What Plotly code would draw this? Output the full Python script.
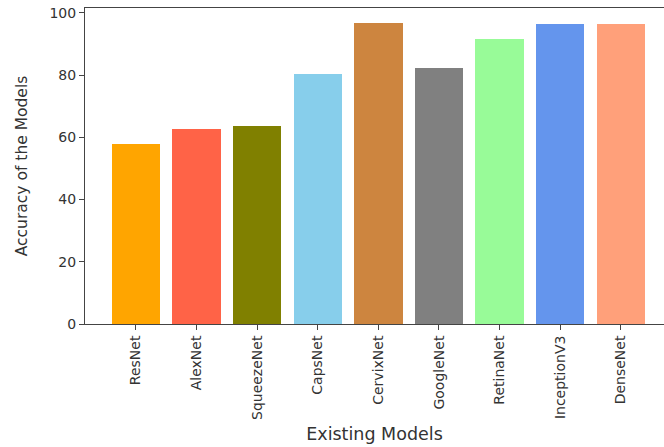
import plotly.graph_objects as go

models = ["ResNet", "AlexNet", "SqueezeNet", "CapsNet", "CervixNet",
          "GoogleNet", "RetinaNet", "InceptionV3", "DenseNet"]
accuracy = [57.9, 62.6, 63.6, 80.4, 96.7, 82.2, 91.5, 96.4, 96.4]
bar_colors = ["#FFA500", "#FF6347", "#808000", "#87CEEB", "#CD853F",
              "#808080", "#98FB98", "#6495ED", "#FFA07A"]
y_ticks = [0, 20, 40, 60, 80, 100]

font_family = "DejaVu Sans"
tick_fs = 14
text_color = "#333"
line_color = "#444"

fig = go.Figure(go.Bar(
    x=list(range(len(models))),
    y=accuracy,
    marker=dict(color=bar_colors, line=dict(width=0)),
    width=0.8,
))

fig.update_layout(
    width=664, height=447,
    margin=dict(l=85, r=0, t=8, b=123),
    plot_bgcolor="white", paper_bgcolor="white",
    font=dict(family=font_family, size=tick_fs, color=text_color),
    showlegend=False,
    bargap=0,
)
fig.update_xaxes(
    range=[-0.84, 8.713],
    tickmode="array",
    tickvals=list(range(len(models))),
    ticktext=models,
    tickangle=-90,
    ticks="outside", ticklen=5, tickcolor=line_color, tickwidth=1,
    showline=True, linecolor=line_color, linewidth=1, mirror=True,
    showgrid=False, zeroline=False,
    title=dict(text="Existing Models", standoff=8,
               font=dict(family=font_family, size=17.5, color=text_color)),
    automargin=False,
)
fig.update_yaxes(
    range=[0, 101.6],
    tickmode="array",
    tickvals=y_ticks,
    ticks="outside", ticklen=5, tickcolor=line_color, tickwidth=1,
    showline=True, linecolor=line_color, linewidth=1, mirror=False,
    showgrid=False, zeroline=False,
    title=dict(text="Accuracy of the Models", standoff=18,
               font=dict(family=font_family, size=15.5, color=text_color)),
    automargin=False,
)

fig.write_html(
    "out.html",
    config={"displayModeBar": False},
    post_script="document.body.style.margin='0';document.body.style.overflow='hidden';",
)
